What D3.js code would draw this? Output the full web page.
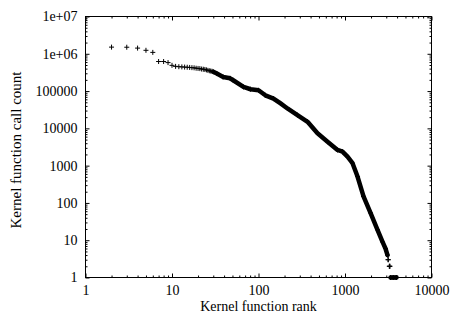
<!DOCTYPE html>
<html><head><meta charset="utf-8">
<script src="https://cdn.jsdelivr.net/npm/d3@7"></script>
<style>body{margin:0;background:#fff}svg{display:block}</style>
</head><body><svg id="c" width="454" height="314"></svg>
<script>
const ranks  = [2, 3, 4, 5, 6, 7, 8, 9, 10, 11, 12, 13, 14, 15, 16, 17, 18, 19, 20, 21, 22, 23, 24, 25, 26, 27, 28, 29, 30, 33, 39, 47, 51, 67, 81, 100, 120, 149, 180, 216, 282, 369, 481, 628, 819, 935, 1069, 1222, 1396, 1637, 1972, 2376, 2716, 2938, 3100, 3140, 3170, 3250, 3280, 3310, 3360, 3500, 3650, 3800, 3940];
const counts = [1.51e6, 1.5e6, 1.42e6, 1.24e6, 1.09e6, 6.2e5, 6.2e5, 5.8e5, 4.9e5, 4.6e5, 4.5e5, 4.45e5, 4.4e5, 4.35e5, 4.3e5, 4.25e5, 4.2e5, 4.1e5, 4.05e5, 4.0e5, 3.9e5, 3.85e5, 3.8e5, 3.7e5, 3.6e5, 3.5e5, 3.45e5, 3.4e5, 3.3e5, 2.94e5, 2.39e5, 2.2e5, 1.95e5, 1.29e5, 1.12e5, 1.05e5, 7.7e4, 6.3e4, 4.66e4, 3.42e4, 2.26e4, 1.5e4, 7350, 4400, 2630, 2370, 1740, 1160, 509, 149, 54, 19, 9, 6, 4, 3, 3, 2, 2, 2, 1, 1, 1, 1, 1];
const xTickValues = [1, 10, 100, 1000, 10000];
const xTickLabels = ["1", "10", "100", "1000", "10000"];
const yTickValues = [1, 10, 100, 1000, 10000, 100000, 1e6, 1e7];
const yTickLabels = ["1", "10", "100", "1000", "10000", "100000", "1e+06", "1e+07"];
const xTitle = "Kernel function rank";
const yTitle = "Kernel function call count";

const L = 85.5, R = 431.5, T = 16.5, B = 277.5;
const svg = d3.select("#c");
const font = "'Liberation Serif', 'Times New Roman', serif";

const x = d3.scaleLog().domain([1, 1e4]).range([L, R]);
const y = d3.scaleLog().domain([1, 1e7]).range([B, T]);

const minorX = [], minorY = [];
for (let d = 1; d < 1e4; d *= 10) for (let k = 2; k <= 9; k++) minorX.push(d * k);
for (let d = 1; d < 1e7; d *= 10) for (let k = 2; k <= 9; k++) minorY.push(d * k);

function styleAxis(g) {
  g.select(".domain").remove();
  g.selectAll("line").attr("stroke", "#000").attr("stroke-width", 1);
  g.selectAll("text").attr("font-family", font).attr("font-size", 14).attr("fill", "#000");
}

svg.append("g").attr("transform", `translate(0,${B})`)
  .call(d3.axisBottom(x).tickValues(xTickValues).tickSize(-4).tickPadding(7.5)
    .tickFormat((d, i) => xTickLabels[i])).call(styleAxis);
svg.append("g").attr("transform", `translate(0,${B})`)
  .call(d3.axisBottom(x).tickValues(minorX).tickSize(-2).tickFormat("")).call(styleAxis);
svg.append("g").attr("transform", `translate(0,${T})`)
  .call(d3.axisTop(x).tickValues(xTickValues).tickSize(-4).tickFormat("")).call(styleAxis);
svg.append("g").attr("transform", `translate(0,${T})`)
  .call(d3.axisTop(x).tickValues(minorX).tickSize(-2).tickFormat("")).call(styleAxis);
svg.append("g").attr("transform", `translate(${L},0)`)
  .call(d3.axisLeft(y).tickValues(yTickValues).tickSize(-4).tickPadding(8)
    .tickFormat((d, i) => yTickLabels[i])).call(styleAxis);
svg.append("g").attr("transform", `translate(${L},0)`)
  .call(d3.axisLeft(y).tickValues(minorY).tickSize(-2).tickFormat("")).call(styleAxis);
svg.append("g").attr("transform", `translate(${R},0)`)
  .call(d3.axisRight(y).tickValues(yTickValues).tickSize(-4).tickFormat("")).call(styleAxis);
svg.append("g").attr("transform", `translate(${R},0)`)
  .call(d3.axisRight(y).tickValues(minorY).tickSize(-2).tickFormat("")).call(styleAxis);

svg.append("rect").attr("x", L).attr("y", T).attr("width", R - L).attr("height", B - T)
  .attr("fill", "none").attr("stroke", "#000").attr("stroke-width", 1);

const data = ranks.map((r, i) => ({ r, c: counts[i] }));

// dense bands (points packed so closely that they merge)
const line = d3.line().x(d => x(d.r)).y(d => y(d.c));
const bands = [data.filter(d => d.r >= 30 && d.c >= 4), data.filter(d => d.c === 1)];
svg.append("g").selectAll("path").data(bands).join("path")
  .attr("d", line).attr("fill", "none").attr("stroke", "#000")
  .attr("stroke-width", 4.5).attr("stroke-linejoin", "round").attr("stroke-linecap", "round");

// point markers
const s = 2.5;
svg.append("g").selectAll("path").data(data).join("path")
  .attr("d", d => { const px = x(d.r), py = y(d.c); return `M${px - s},${py}H${px + s}M${px},${py - s}V${py + s}`; })
  .attr("stroke", "#000").attr("stroke-width", 1).attr("fill", "none");

svg.append("text").attr("x", (L + R) / 2).attr("y", 310.8).attr("text-anchor", "middle")
  .attr("font-family", font).attr("font-size", 14).text(xTitle);
svg.append("text").attr("transform", `translate(21,${(T + B) / 2 + 3}) rotate(-90)`).attr("text-anchor", "middle")
  .attr("font-family", font).attr("font-size", 15).text(yTitle);
</script>
</body></html>
